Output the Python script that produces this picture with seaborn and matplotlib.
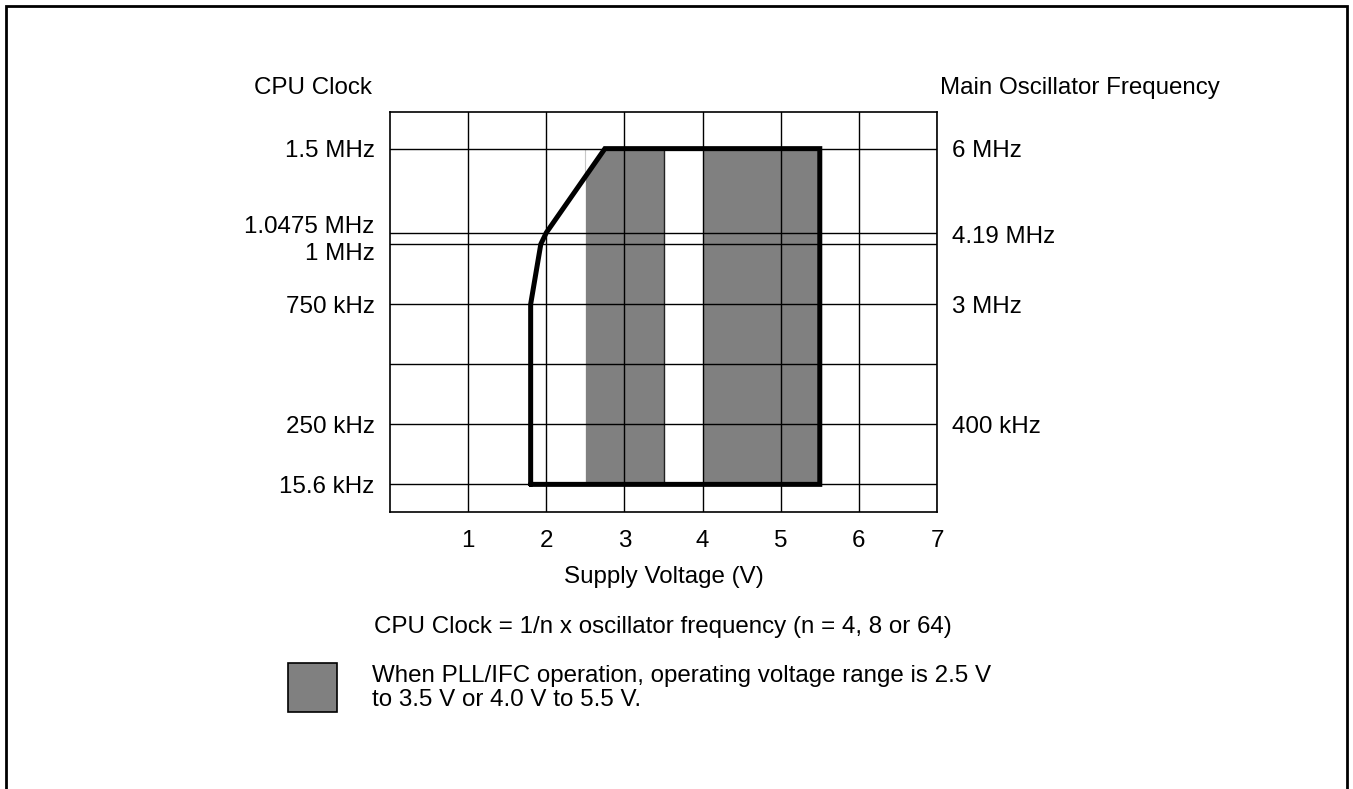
import matplotlib
matplotlib.use("Agg")
import matplotlib.pyplot as plt
import matplotlib.patches as mpatches
import matplotlib.transforms as mtransforms
import seaborn as sns
import numpy as np
import pandas as pd

# supply voltage ticks (V)
volt_ticks = [1, 2, 3, 4, 5, 6, 7]

# frequency grid rows (arbitrary position scale, bottom of chart = 0)
grid_pos = [0.46, 1.46, 2.46, 3.46, 4.46, 4.65, 6.05]
cpu_clock_labels = ["15.6 kHz", "250 kHz", "", "750 kHz", "1 MHz", "1.0475 MHz", "1.5 MHz"]
osc_labels = ["", "400 kHz", "", "3 MHz", "", "4.19 MHz", "6 MHz"]

# operating region outline (voltage, frequency position)
outline_v = [1.8, 1.8, 1.93, 2.0, 2.75, 5.5, 5.5, 1.8]
outline_f = [0.46, 3.46, 4.46, 4.65, 6.05, 6.05, 0.46, 0.46]

# PLL/IFC voltage ranges
pll_lo = [2.5, 4.0]
pll_hi = [3.5, 5.5]

sns.set_theme(style="white")
plt.rcParams["font.family"] = ["Liberation Sans", "DejaVu Sans"]
plt.rcParams["text.color"] = "black"
FS = 17.4

fig = plt.figure(figsize=(13.53, 7.89), dpi=100)
ax = fig.add_axes([390 / 1353, 1 - 512 / 789, (937 - 390) / 1353, (512 - 112) / 789])
ax.set_xlim(0, 7)
ax.set_ylim(0, 6.66)

# upper boundary of the operating region (left/top part of the outline)
up_v = outline_v[1:6]
up_f = outline_f[1:6]

for lo, hi in zip(pll_lo, pll_hi):
    xs = sorted(set([lo, hi] + [v for v in up_v if lo < v < hi]))
    top = np.interp(xs, up_v, up_f)
    ax.fill_between(xs, grid_pos[0], top, color="#808080", lw=0, zorder=1)
    ax.plot([hi, hi], [grid_pos[0], np.interp(hi, up_v, up_f)], color="#222222", lw=1, zorder=2)
    edge_top = np.interp(lo, up_v, up_f)
    if edge_top < grid_pos[-1]:
        ax.plot([lo, lo], [edge_top, grid_pos[-1]], color="#c8c8c8", lw=0.8, zorder=1.5)

# grid
ax.set_xticks(volt_ticks)
ax.set_xticklabels([str(v) for v in volt_ticks], fontsize=FS)
ax.set_yticks(grid_pos)
ax.set_yticklabels(cpu_clock_labels, fontsize=FS)
ax.grid(True, color="black", lw=1.0, zorder=3)
ax.set_axisbelow(False)
ax.tick_params(axis="both", length=0, colors="black")
ax.tick_params(axis="x", pad=13)
ax.tick_params(axis="y", pad=11)
for s in ax.spines.values():
    s.set_visible(True)
    s.set_color("black")
    s.set_linewidth(1.2)

# spread the two close labels apart
ylabels = ax.get_yticklabels()
for lab, dy in [(ylabels[5], 8), (ylabels[4], -7)]:
    off = mtransforms.ScaledTranslation(0, dy / 100, fig.dpi_scale_trans)
    lab.set_transform(lab.get_transform() + off)

# operating region outline
df = pd.DataFrame({"v": outline_v, "f": outline_f})
sns.lineplot(data=df, x="v", y="f", sort=False, estimator=None, color="black",
             lw=3.6, ax=ax, zorder=5, solid_joinstyle="miter")
ax.set_xlabel("Supply Voltage (V)", fontsize=FS, labelpad=10, color="black")
ax.set_ylabel("")

ax2 = ax.twinx()
ax2.set_ylim(ax.get_ylim())
ax2.set_yticks(grid_pos)
ax2.set_yticklabels(osc_labels, fontsize=FS)
ax2.tick_params(axis="y", length=0, pad=11, colors="black")
ax2.grid(False)
for s in ax2.spines.values():
    s.set_visible(False)
rlab = ax2.get_yticklabels()[5]
rlab.set_transform(rlab.get_transform() + mtransforms.ScaledTranslation(0, -0.02, fig.dpi_scale_trans))

fig.text(372 / 1353, 1 - 88 / 789, "CPU Clock", fontsize=FS, ha="right", va="center")
fig.text(940 / 1353, 1 - 88 / 789, "Main Oscillator Frequency", fontsize=FS, ha="left", va="center")
fig.text(663 / 1353, 1 - 627 / 789, "CPU Clock = 1/n x oscillator frequency (n = 4, 8 or 64)",
         fontsize=FS, ha="center", va="center")

# legend swatch and note
fig.patches.append(mpatches.Rectangle((288 / 1353, 1 - 712 / 789), 49 / 1353, 49 / 789,
                                      facecolor="#808080", edgecolor="black", lw=1.2,
                                      transform=fig.transFigure, figure=fig))
fig.text(372 / 1353, 1 - 676 / 789, "When PLL/IFC operation, operating voltage range is 2.5 V",
         fontsize=FS, ha="left", va="center")
fig.text(372 / 1353, 1 - 700 / 789, "to 3.5 V or 4.0 V to 5.5 V.",
         fontsize=FS, ha="left", va="center")

# page border
fig.patches.append(mpatches.Rectangle((6 / 1353, -0.05), (1347 - 6) / 1353, 0.05 + 1 - 6 / 789,
                                      fill=False, edgecolor="black", lw=2,
                                      transform=fig.transFigure, figure=fig))

fig.savefig("out.png", dpi=100)
